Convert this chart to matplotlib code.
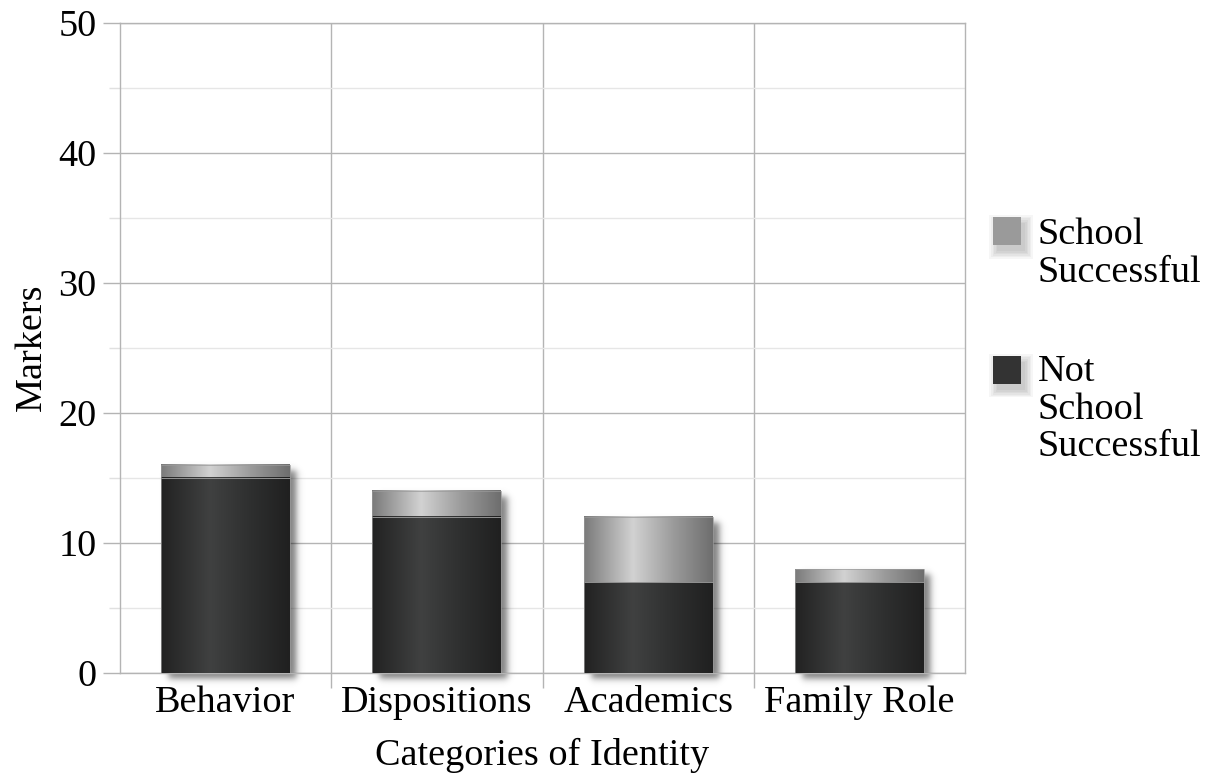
import matplotlib
matplotlib.use("Agg")
import matplotlib.pyplot as plt
import numpy as np
from matplotlib.colors import LinearSegmentedColormap
from matplotlib.patches import Rectangle

plt.rcParams['font.family'] = ['Liberation Serif', 'DejaVu Serif']

# data
categories = ["Behavior", "Dispositions", "Academics", "Family Role"]
not_successful = [15, 12, 7, 7]
successful = [1, 2, 5, 1]
series_names = ["School\nSuccessful", "Not\nSchool\nSuccessful"]

dark_cmap = LinearSegmentedColormap.from_list(
    "dark", [(0, "#222222"), (0.38, "#404141"), (0.7, "#2e2f2f"), (1, "#202020")])
light_cmap = LinearSegmentedColormap.from_list(
    "light", [(0, "#7a7a7a"), (0.38, "#d2d2d2"), (0.7, "#9a9a9a"), (1, "#6e6e6e")])

fig = plt.figure(figsize=(12.1, 7.76), dpi=100)
ax = fig.add_axes([120 / 1210, 1 - 672.5 / 776, 845 / 1210, 650 / 776])

x = np.arange(len(categories))
width = 0.61
grad = np.linspace(0, 1, 256).reshape(1, -1)
px_x = 845 / len(categories)   # pixels per x unit
px_y = 650 / 50                # pixels per y unit


def shadow(x0, x1, y0, y1):
    # blurred shadow offset to the lower right
    dx, dy, s = 7 / px_x, 6 / px_y, 4.0
    sx, sy = s / px_x, s / px_y
    ex = np.linspace(x0 + dx - 4 * sx, x1 + dx + 4 * sx, 120)
    ey = np.linspace(y0 - dy - 4 * sy, y1 - dy + 4 * sy, 200)
    X, Y = np.meshgrid(ex, ey)
    ax_ = 0.5 * (np.tanh((X - x0 - dx) / sx) - np.tanh((X - x1 - dx) / sx))
    ay_ = 0.5 * (np.tanh((Y - y0 + dy) / sy) - np.tanh((Y - y1 + dy) / sy))
    img = np.zeros(X.shape + (4,))
    img[..., 3] = 0.5 * ax_ * ay_
    ax.imshow(img, extent=(ex[0], ex[-1], ey[0], ey[-1]), origin="lower",
              aspect="auto", zorder=2, clip_on=False, interpolation="bilinear")


def gradient_bar(xc, bottom, height, cmap):
    x0 = xc - width / 2
    ax.imshow(grad, cmap=cmap, aspect="auto", zorder=3,
              extent=(x0, x0 + width, bottom, bottom + height),
              interpolation="bilinear")
    ax.add_patch(Rectangle((x0, bottom), width, height, fill=False,
                           edgecolor="#9a9a9a", lw=0.5, zorder=4))


for i in range(len(categories)):
    total = not_successful[i] + successful[i]
    shadow(x[i] - width / 2, x[i] + width / 2, 0, total)
    gradient_bar(x[i], 0, not_successful[i], dark_cmap)
    gradient_bar(x[i], not_successful[i], successful[i], light_cmap)

ax.set_xlim(-0.5, len(categories) - 0.5)
ax.set_ylim(0, 50)

ax.set_yticks(np.arange(0, 51, 10))
ax.set_yticks(np.arange(5, 50, 10), minor=True)
ax.set_xticks(np.arange(0.5, len(categories) - 0.5, 1))
ax.set_xticks(x, minor=True)
ax.set_xticklabels([])
ax.set_xticklabels(categories, minor=True)

ax.grid(True, which="major", color="#b4b4b4", lw=1.0, zorder=0)
ax.grid(True, which="minor", axis="y", color="#e6e6e6", lw=1.0, zorder=0)
ax.set_axisbelow(True)

ax.tick_params(axis="y", which="major", length=12, width=1.0, color="#b4b4b4",
               labelsize=27.5, pad=5)
ax.tick_params(axis="y", which="minor", length=8, width=1.0, color="#e0e0e0")
ax.tick_params(axis="x", which="major", length=11, width=1.0, color="#b4b4b4",
               direction="out")
ax.tick_params(axis="x", which="minor", length=0, labelsize=27.5, pad=9)

for side in ["left", "bottom", "right", "top"]:
    ax.spines[side].set_color("#b4b4b4")
    ax.spines[side].set_linewidth(1.0)

ax.set_ylabel("Markers", fontsize=27.5, labelpad=7)
ax.set_xlabel("Categories of Identity", fontsize=27.5)
ax.xaxis.set_label_coords(0.5, (672.5 - 765) / 650)
ax.xaxis.label.set_verticalalignment("baseline")

# legend drawn by hand on the right
legend_colors = ["#9a9a9a", "#333333"]
legend_tops = [217, 356]
text_tops = [218, 355]
for name, col, top, ttop in zip(series_names, legend_colors, legend_tops, text_tops):
    sx, ss = 993, 28
    for i in range(6):
        d = i * 1.5
        fig.patches.append(Rectangle(((sx + 4 - d) / 1210, 1 - (top + ss + 6 + d) / 776),
                                     (ss + 2 * d) / 1210, (ss + 2 * d) / 776,
                                     transform=fig.transFigure, facecolor="black",
                                     alpha=0.035, lw=0))
    fig.patches.append(Rectangle((sx / 1210, 1 - (top + ss) / 776), ss / 1210, ss / 776,
                                 transform=fig.transFigure, facecolor=col, lw=0))
    fig.text(1038 / 1210, 1 - ttop / 776, name, fontsize=27.5, va="top",
             ha="left", linespacing=1.1)

fig.savefig("out.png", dpi=100)
